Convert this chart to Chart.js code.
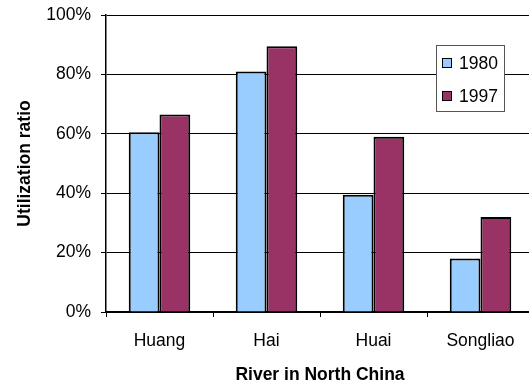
<!DOCTYPE html>
<html>
<head>
<meta charset="utf-8">
<script src="https://cdn.jsdelivr.net/npm/chart.js@4"></script>
<style>
  html, body { margin: 0; padding: 0; background: #fff; overflow: hidden; width: 529px; height: 389px; }
  #wrap { position: relative; width: 536px; height: 389px; }
</style>
</head>
<body>
<div id="wrap"><canvas id="c"></canvas></div>
<script>
// Utilization ratio of rivers in North China, 1980 vs 1997 (percent)
const rivers = ['Huang', 'Hai', 'Huai', 'Songliao'];
const ratio1980 = [60.5, 81, 39.5, 18];
const ratio1997 = [66.5, 89.5, 59, 32];
const yearLabels = ['1980', '1997'];
const yTickValues = [0, 20, 40, 60, 80, 100];

const FONT = '"Liberation Sans", Arial, sans-serif';
Chart.defaults.font.family = FONT;
Chart.defaults.color = '#000';

// Boxed legend placed inside the plot, upper right
const boxLegend = {
  id: 'boxLegend',
  afterDraw(chart) {
    const ctx = chart.ctx;
    const x = 436, y = 45, w = 68, h = 66;
    ctx.save();
    ctx.fillStyle = '#fff';
    ctx.fillRect(x, y, w, h);
    ctx.strokeStyle = '#555';
    ctx.lineWidth = 1;
    ctx.strokeRect(x + 0.5, y + 0.5, w, h);
    chart.data.datasets.forEach((ds, i) => {
      const cy = y + 18 + i * 33;
      ctx.fillStyle = ds.backgroundColor;
      ctx.fillRect(442, cy - 5, 10, 10);
      ctx.strokeStyle = '#000';
      ctx.strokeRect(442.5, cy - 4.5, 9, 9);
      ctx.fillStyle = '#000';
      ctx.font = '17.5px ' + FONT;
      ctx.textBaseline = 'middle';
      ctx.textAlign = 'left';
      ctx.fillText(ds.label, 459, cy + 1);
    });
    ctx.restore();
  }
};

new Chart(document.getElementById('c'), {
  type: 'bar',
  data: {
    labels: rivers,
    datasets: [
      { label: yearLabels[0], data: ratio1980, backgroundColor: '#99CCFF', borderColor: '#000', borderWidth: 2,
        categoryPercentage: 0.575, barPercentage: 1 },
      { label: yearLabels[1], data: ratio1997, backgroundColor: '#993366', borderColor: '#000', borderWidth: 2,
        categoryPercentage: 0.575, barPercentage: 1 }
    ]
  },
  options: {
    responsive: true,
    maintainAspectRatio: false,
    animation: false,
    layout: { padding: { top: 15, right: 2, bottom: 0, left: 0 } },
    plugins: { legend: { display: false }, tooltip: { enabled: false } },
    scales: {
      x: {
        grid: { display: true, drawOnChartArea: false, drawTicks: true, tickLength: 5, color: '#000', offset: true },
        border: { display: true, color: '#000', width: 1.5 },
        ticks: { color: '#000', font: { size: 17.5 }, padding: 14 },
        title: { display: true, text: 'River in North China', color: '#000',
                 font: { size: 17.5, weight: 'bold' }, padding: { top: 0, bottom: 3 } },
        afterFit(s) { s.height = 77; s.paddingLeft = 0; s.paddingRight = 0; }
      },
      y: {
        min: 0, max: 100,
        afterBuildTicks(s) { s.ticks = yTickValues.map(v => ({ value: v })); },
        ticks: { color: '#000', font: { size: 17.5 }, padding: 10, callback: v => v + '%' },
        grid: { color: '#000', lineWidth: 1, tickLength: 5 },
        border: { display: true, color: '#000', width: 1.5 },
        title: { display: true, text: 'Utilization ratio', color: '#000',
                 font: { size: 17.5, weight: 'bold' }, padding: { top: 15, bottom: 0 } },
        afterFit(s) { s.width = 106; s.paddingTop = 0; s.paddingBottom = 0; }
      }
    }
  },
  plugins: [boxLegend]
});
</script>
</body>
</html>
